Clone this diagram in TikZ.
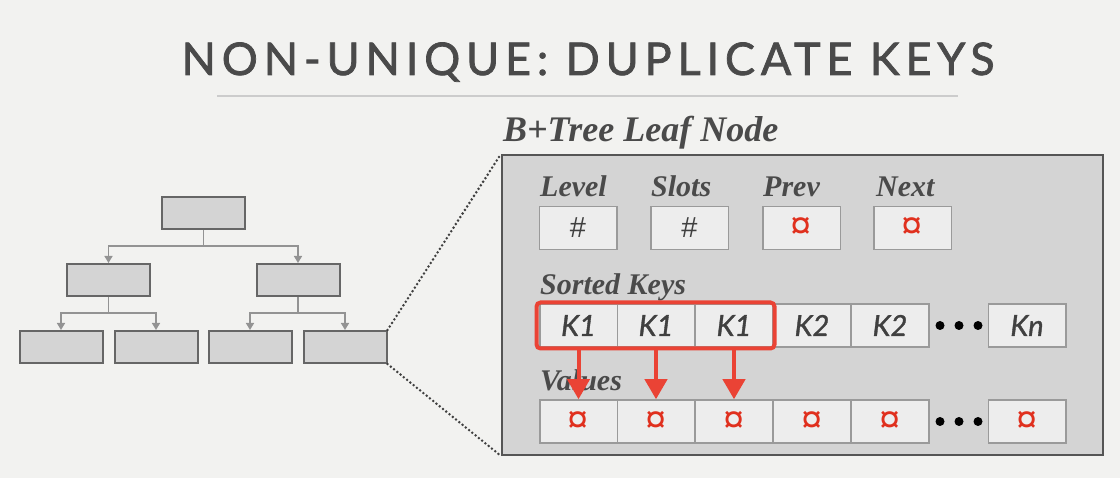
\documentclass[tikz,border=0pt]{standalone}
\usepackage{fontspec}
\usetikzlibrary{arrows.meta}
\newfontfamily\titlefont[LetterSpace=13,FakeBold=1.6]{Lato}
\newfontfamily\lblfont{Liberation Serif}
\newfontfamily\keyfont[FakeBold=1.2]{Lato}
\newfontfamily\symfont{Liberation Sans}
\definecolor{bg}{HTML}{F2F2F0}
\definecolor{txt}{HTML}{4A4A4A}
\definecolor{celltxt}{HTML}{404040}
\definecolor{cellfill}{HTML}{EDEDED}
\definecolor{celldraw}{HTML}{9A9A9A}
\definecolor{leaffill}{HTML}{D4D4D4}
\definecolor{leafdraw}{HTML}{555555}
\definecolor{hired}{HTML}{EA4335}
\definecolor{ptrred}{HTML}{E0301E}
\tikzset{
  cell/.style={draw=celldraw, fill=cellfill, line width=1.5pt, minimum width=77.5pt, minimum height=43pt, inner sep=0pt, text=celltxt},
  tnode/.style={draw=leafdraw!90, fill=leaffill, line width=2pt, minimum width=83pt, minimum height=32pt, inner sep=0pt},
  lbl/.style={anchor=base west, inner sep=0pt, text=txt, font=\lblfont\bfseries\itshape\fontsize{30}{30}\selectfont},
  keytxt/.style={font=\keyfont\itshape\fontsize{29}{29}\selectfont},
  ptr/.style={text=ptrred, font=\symfont\fontsize{38}{38}\selectfont},
  hsh/.style={font=\symfont\fontsize{29}{29}\selectfont},
  tedge/.style={draw=gray!85, line width=1.5pt},
  tarrow/.style={tedge, -{Triangle[width=8pt,length=7pt]}},
  redarrow/.style={draw=hired, line width=4pt, -{Triangle[width=22pt,length=20pt]}},
  dotbl/.style={fill=black, circle, minimum size=9pt, inner sep=0pt},
  zoomline/.style={draw=black!75, line width=2.8pt, dash pattern=on 0pt off 4.2pt, line cap=round}
}
\begin{document}
\begin{tikzpicture}[x=1pt,y=-1pt]
\fill[bg] (0,0) rectangle (1120,478);
\useasboundingbox (0,0) rectangle (1120,478);
% title
\node[anchor=base, inner sep=0pt, text=txt, font=\titlefont\fontsize{45}{45}\selectfont] (title) at (588,75) {NON-UNIQUE: DUPLICATE KEYS};
\coordinate (rl) at (217,96);
\coordinate (rr) at (958,96);
\draw[draw=black!20, line width=2.5pt] (rl) -- (rr);
\node[anchor=base west, inner sep=0pt, text=txt, font=\lblfont\bfseries\itshape\fontsize{36}{36}\selectfont] (sub) at (503,142) {B+Tree Leaf Node};
% tree
\node[tnode] (root) at (203.5,213) {};
\node[tnode] (m1) at (108.5,280) {};
\node[tnode] (m2) at (298,280) {};
\node[tnode] (l1) at (61,347) {};
\node[tnode] (l2) at (156,347) {};
\node[tnode] (l3) at (250,347) {};
\node[tnode] (l4) at (345,347) {};
\coordinate (j0) at (203.5,246);
\coordinate (j1) at (108.5,313);
\coordinate (j2) at (298,313);
\draw[tedge] (root.south) -- (j0);
\draw[tarrow] (j0) -| (m1.north);
\draw[tarrow] (j0) -| (m2.north);
\draw[tedge] (m1.south) -- (j1);
\draw[tarrow] (j1) -| (l1.north);
\draw[tarrow] (j1) -| (l2.north);
\draw[tedge] (m2.south) -- (j2);
\draw[tarrow] (j2) -| (l3.north);
\draw[tarrow] (j2) -| (l4.north);
% big leaf box
\node[draw=leafdraw, fill=leaffill, line width=2pt, minimum width=601pt, minimum height=300pt, inner sep=0pt] (leaf) at (802.5,305) {};
\draw[zoomline] (l4.north east) -- (leaf.north west);
\draw[zoomline] (l4.south east) -- (leaf.south west);
% header
\node[lbl] (tlevel) at (540,197) {Level};
\node[lbl] (tslots) at (651,197) {Slots};
\node[lbl] (tprev) at (763,197) {Prev};
\node[lbl] (tnext) at (876,197) {Next};
\node[cell, hsh] (level) at (578,228) {\#};
\node[cell, hsh] (slots) at (689.5,228) {\#};
\node[cell, ptr] (prev) at (801.5,228) {¤};
\node[cell, ptr] (next) at (912.5,228) {¤};
% keys
\node[lbl] (tkeys) at (540,295) {Sorted Keys};
\node[cell, keytxt] (k1) at (578.5,325.5) {K1};
\node[cell, keytxt] (k2) at (656,325.5) {K1};
\node[cell, keytxt] (k3) at (734,325.5) {K1};
\node[cell, keytxt] (k4) at (812,325.5) {K2};
\node[cell, keytxt] (k5) at (890,325.5) {K2};
\node[dotbl] (kd1) at (940,325.5) {};
\node[dotbl] (kd2) at (959,325.5) {};
\node[dotbl] (kd3) at (978,325.5) {};
\node[cell, keytxt] (kn) at (1027,325.5) {Kn};
% values
\node[lbl] (tvals) at (540,391) {Values};
\node[cell, ptr] (v1) at (578.5,421.5) {¤};
\node[cell, ptr] (v2) at (656,421.5) {¤};
\node[cell, ptr] (v3) at (734,421.5) {¤};
\node[cell, ptr] (v4) at (812,421.5) {¤};
\node[cell, ptr] (v5) at (890,421.5) {¤};
\node[dotbl] (vd1) at (940,421.5) {};
\node[dotbl] (vd2) at (959,421.5) {};
\node[dotbl] (vd3) at (978,421.5) {};
\node[cell, ptr] (vn) at (1027,421.5) {¤};
% highlight
\node[draw=hired, line width=4pt, rounded corners=4pt, minimum width=238pt, minimum height=46pt, inner sep=0pt] (hl) at (655.5,325.5) {};
\draw[redarrow] (k1.center |- hl.south) -- (v1.north);
\draw[redarrow] (k2.center |- hl.south) -- (v2.north);
\draw[redarrow] (k3.center |- hl.south) -- (v3.north);
\end{tikzpicture}
\end{document}
